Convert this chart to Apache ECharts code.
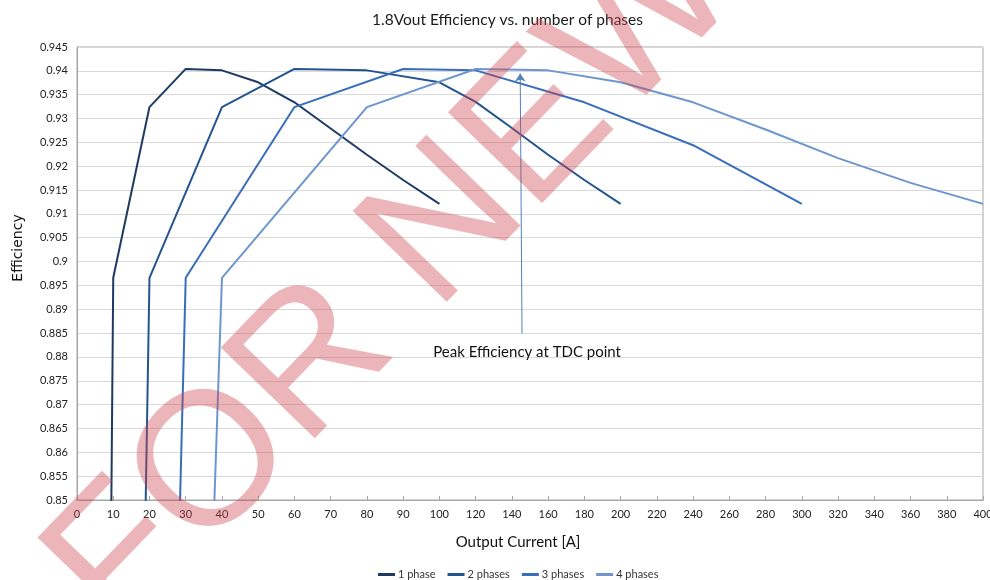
<!DOCTYPE html>
<html>
<head>
<meta charset="utf-8">
<script src="https://cdn.jsdelivr.net/npm/echarts@6/dist/echarts.min.js"></script>
<style>
html,body{margin:0;padding:0;background:#fff;}
#chart{width:990px;height:580px;}
</style>
</head>
<body>
<div id="chart"></div>
<script>
// Output current categories (A)
const categories = ['0','10','20','30','40','50','60','70','80','90','100','120','140','160','180','200','220','240','260','280','300','320','340','360','380','400'];
const seriesNames = ['1 phase','2 phases','3 phases','4 phases'];
// Efficiency values per category (null = no measurement, connected)
const phase1 = [0, 0.8966, 0.9324, 0.9404, 0.9401, 0.9376, 0.9334, 0.9279, 0.9224, 0.9171, 0.9121, null, null, null, null, null, null, null, null, null, null, null, null, null, null, null];
const phase2 = [0, null, 0.8966, null, 0.9324, null, 0.9404, null, 0.9401, null, 0.9376, 0.9335, 0.9280, 0.9224, 0.9171, 0.9121, null, null, null, null, null, null, null, null, null, null];
const phase3 = [0, null, null, 0.8966, null, null, 0.9324, null, null, 0.9404, null, 0.9401, null, null, 0.9334, null, null, 0.9244, null, null, 0.9121, null, null, null, null, null];
const phase4 = [0, null, null, null, 0.8966, null, null, null, 0.9324, null, null, 0.9404, null, 0.9401, null, 0.9376, null, 0.9334, null, 0.9277, null, 0.9217, null, 0.9165, null, 0.9121];
const yTicks = {min: 0.85, max: 0.945, interval: 0.005};
// Annotation (arrow from/to in category-index units, efficiency)
const arrowFrom = [12.28, 0.88495];
const arrowTo = [12.23, 0.93945];
const annotText = 'Peak Efficiency at TDC point';
const annotPos = [12.42, 0.8809];

const colors = ['#1E3A62', '#23548F', '#386EB9', '#6E96CE'];
const font = 'Lato';
const allData = [phase1, phase2, phase3, phase4];

const chart = echarts.init(document.getElementById('chart'), null, {renderer: 'canvas'});

const lineSeries = allData.map((d, i) => ({
  name: seriesNames[i],
  type: 'line',
  data: d,
  connectNulls: true,
  symbol: 'none',
  clip: true,
  lineStyle: {width: 2, color: colors[i]},
  itemStyle: {color: colors[i]},
  z: 3
}));

lineSeries.push({
  type: 'line',
  xAxisIndex: 1,
  data: [],
  silent: true,
  markLine: {
    silent: true,
    symbol: ['none', 'arrow'],
    symbolSize: 8,
    lineStyle: {color: '#4F81BD', width: 1, type: 'solid'},
    itemStyle: {color: '#4F81BD'},
    label: {show: false},
    data: [[{coord: arrowFrom}, {coord: arrowTo}]]
  },
  markPoint: {
    silent: true,
    symbol: 'circle',
    symbolSize: 1,
    itemStyle: {color: 'rgba(0,0,0,0)'},
    label: {show: true, position: 'inside', formatter: annotText, color: '#111', fontSize: 15, fontFamily: font},
    data: [{coord: annotPos}]
  }
});

const option = {
  animation: false,
  backgroundColor: '#fff',
  color: colors,
  title: {
    text: '1.8Vout Efficiency vs. number of phases',
    left: 367, top: 7,
    textStyle: {fontFamily: font, fontSize: 15.5, fontWeight: 'normal', color: '#1a1a1a'}
  },
  legend: {
    data: seriesNames.map(n => ({name: n, icon: 'rect'})),
    top: 564, left: 373,
    itemWidth: 17, itemHeight: 3, itemGap: 12,
    textStyle: {fontFamily: font, fontSize: 11, color: '#333', padding: [0, 0, 0, -2]}
  },
  grid: {left: 77, right: 7, top: 47, bottom: 80, show: true, borderColor: '#a6a6a6', borderWidth: 1, containLabel: false, outerBoundsMode: 'none'},
  xAxis: [{
    type: 'category',
    data: categories,
    boundaryGap: false,
    axisLine: {lineStyle: {color: '#a6a6a6'}},
    axisTick: {inside: true, length: 4, interval: 0, lineStyle: {color: '#a6a6a6'}},
    axisLabel: {interval: 0, fontFamily: font, fontSize: 11, color: '#222', margin: 9, hideOverlap: false},
    splitLine: {show: false},
    name: 'Output Current [A]',
    nameLocation: 'middle',
    nameGap: 35,
    nameTextStyle: {fontFamily: font, fontSize: 15, color: '#111', padding: [0, 24, 0, 0]}
  }, {
    type: 'value', min: 0, max: categories.length - 1, show: false
  }],
  yAxis: {
    type: 'value',
    min: yTicks.min, max: yTicks.max, interval: yTicks.interval,
    axisLine: {show: true, lineStyle: {color: '#a6a6a6'}},
    axisTick: {show: false},
    axisLabel: {fontFamily: font, fontSize: 11, color: '#222', margin: 9,
      formatter: v => String(parseFloat(v.toFixed(3)))},
    splitLine: {lineStyle: {color: '#d9d9d9', width: 1}},
    name: 'Efficiency',
    nameLocation: 'middle',
    nameGap: 52,
    nameTextStyle: {fontFamily: 'DejaVu Sans', fontSize: 14, color: '#111', padding: [0, 0, 0, 51]}
  },
  graphic: [{
    type: 'text',
    x: 83, y: 603,
    rotation: 46 * Math.PI / 180,
    z: 100,
    silent: true,
    style: {
      text: 'FOR NEW',
      fontSize: 190,
      fontFamily: 'Liberation Sans',
      fill: 'rgba(205,70,80,0.4)',
      align: 'left',
      verticalAlign: 'middle'
    }
  }],
  series: lineSeries
};
chart.setOption(option);
</script>
</body>
</html>
